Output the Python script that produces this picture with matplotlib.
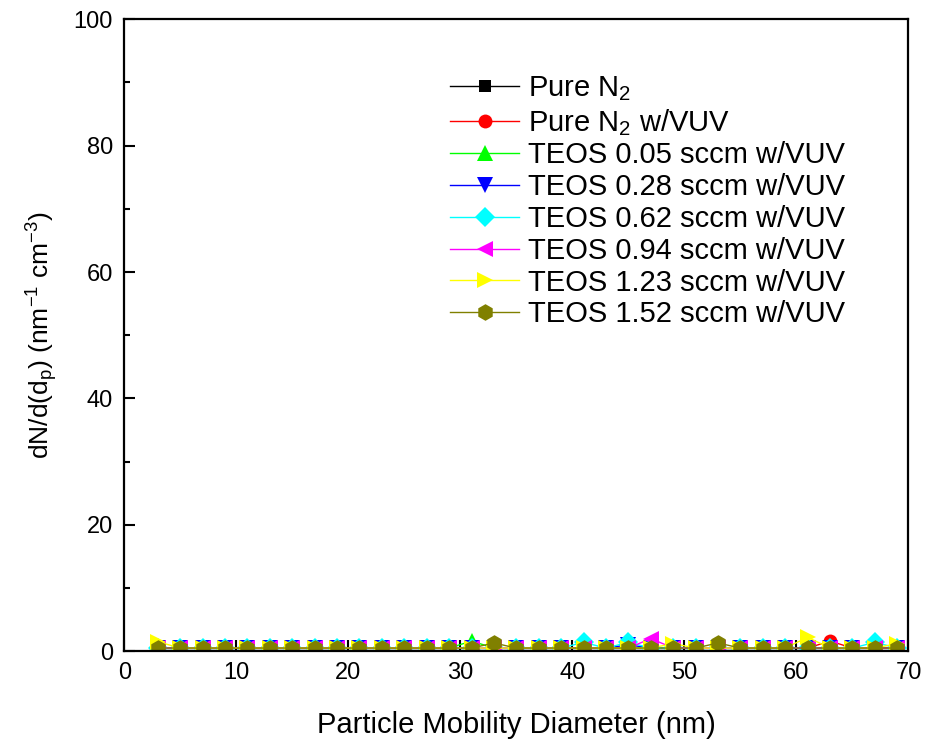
import numpy as np
import matplotlib.pyplot as plt

plt.rcParams['font.family'] = ['Liberation Sans', 'DejaVu Sans']
plt.rcParams['mathtext.fontset'] = 'custom'
plt.rcParams['mathtext.rm'] = 'Liberation Sans'
plt.rcParams['mathtext.it'] = 'Liberation Sans'

# particle diameters (nm)
dp = np.arange(3, 70, 2)

base = [0.5] * len(dp)

def with_spikes(spikes):
    vals = list(base)
    for d, v in spikes.items():
        vals[(d - 3) // 2] = v
    return vals

pure_n2 = with_spikes({})
pure_n2_vuv = with_spikes({63: 1.6})
teos_005 = with_spikes({31: 1.6})
teos_028 = with_spikes({45: 1.0})
teos_062 = with_spikes({41: 1.4, 45: 1.4, 67: 1.4})
teos_094 = with_spikes({47: 2.0})
teos_123 = with_spikes({3: 1.5, 49: 1.2, 61: 2.2, 69: 1.2})
teos_152 = with_spikes({33: 1.3, 53: 1.3})

labels = ['Pure N$_2$', 'Pure N$_2$ w/VUV', 'TEOS 0.05 sccm w/VUV',
          'TEOS 0.28 sccm w/VUV', 'TEOS 0.62 sccm w/VUV',
          'TEOS 0.94 sccm w/VUV', 'TEOS 1.23 sccm w/VUV',
          'TEOS 1.52 sccm w/VUV']
series = [pure_n2, pure_n2_vuv, teos_005, teos_028, teos_062,
          teos_094, teos_123, teos_152]
colors = ['black', 'red', '#00ff00', 'blue', 'cyan', 'magenta', 'yellow', '#808000']
markers = ['s', 'o', '^', 'v', 'D', '<', '>', 'h']
msizes = [9, 10, 12, 12, 10, 12, 12, 12]

fig, ax = plt.subplots(figsize=(9.27, 7.4), dpi=100)
fig.subplots_adjust(left=0.134, right=0.98, top=0.974, bottom=0.12)

for y, c, m, ms, lab in zip(series, colors, markers, msizes, labels):
    ax.plot(dp, y, color=c, marker=m, markersize=ms, linewidth=1,
            markeredgewidth=0, label=lab)

ax.set_xlim(0, 70)
ax.set_ylim(0, 100)
ax.set_xticks(range(0, 71, 10))
ax.set_yticks(range(0, 101, 20))
ax.xaxis.set_minor_locator(plt.MultipleLocator(5))
ax.yaxis.set_minor_locator(plt.MultipleLocator(10))
ax.tick_params(which='both', direction='in', labelsize=17, width=1.5, pad=8)
ax.tick_params(which='major', length=8)
ax.tick_params(which='minor', length=4)
for s in ax.spines.values():
    s.set_linewidth(1.6)

ax.set_xlabel('Particle Mobility Diameter (nm)', fontsize=21, labelpad=19)
ax.set_ylabel('dN/d(d$_p$) (nm$^{-1}$ cm$^{-3}$)', fontsize=19, labelpad=10)

leg = ax.legend(loc='upper left', bbox_to_anchor=(0.416, 0.913), frameon=False,
                fontsize=21, handlelength=2.35, labelspacing=0.13,
                handletextpad=0.3, borderpad=0, borderaxespad=0)

fig.savefig('out.png')
